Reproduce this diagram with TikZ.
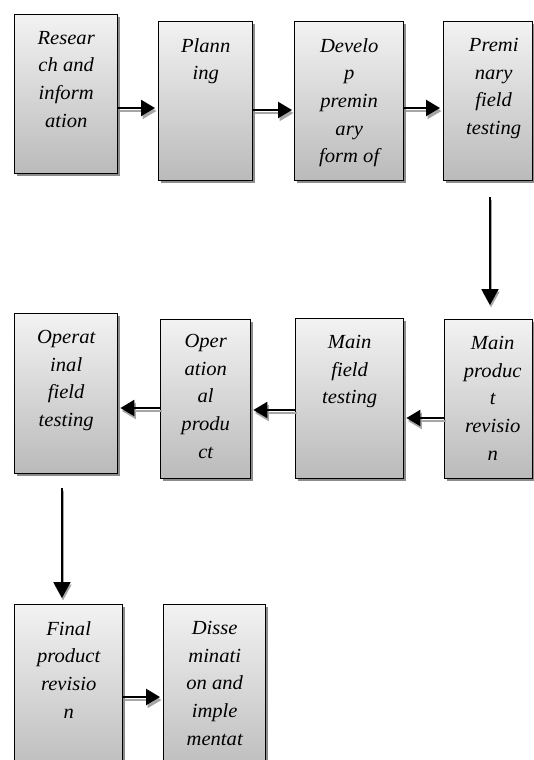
\documentclass[tikz,border=0pt]{standalone}
\usepackage{fontspec}
\setmainfont[FakeStretch=1.03]{Liberation Serif}
\usetikzlibrary{arrows.meta,shadows}
\tikzset{
  stage/.style={draw=black, line width=1.4pt, top color=black!5, bottom color=black!27,
    drop shadow={shadow xshift=2.5pt, shadow yshift=-2.5pt, fill=black!45, opacity=1},
    inner sep=0pt, anchor=north west},
  stagetext/.style={font=\fontsize{20}{27.7}\selectfont\itshape, align=center,
    inner sep=0pt, anchor=north},
  hhead/.style={-{Triangle[length=14pt,width=16pt]}},
  vhead/.style={-{Triangle[length=16pt,width=17pt]}},
  hflow/.style={hhead, line width=2.4pt, draw=black, fill=black},
  hshade/.style={hhead, line width=2.4pt, draw=black!35, fill=black!35,
    transform canvas={shift={(1.5pt,-3pt)}}},
  vflow/.style={vhead, line width=2pt, draw=black, fill=black},
  vshade/.style={vhead, line width=2pt, draw=black!35, fill=black!35,
    transform canvas={shift={(1pt,-2.5pt)}}},
}
\begin{document}
\begin{tikzpicture}[x=1pt,y=-1pt]
\fill[white] (0,0) rectangle (533,760);
\useasboundingbox (0,0) rectangle (533,760);

% boxes
\node[stage, minimum width=103pt, minimum height=159pt] (b1) at (14,14) {};
\node[stage, minimum width=94pt,  minimum height=159pt] (b2) at (158,21) {};
\node[stage, minimum width=109pt, minimum height=159pt] (b3) at (294,21) {};
\node[stage, minimum width=89pt,  minimum height=159pt] (b4) at (443,21) {};
\node[stage, minimum width=88pt,  minimum height=159pt] (b5) at (444,319) {};
\node[stage, minimum width=108pt, minimum height=160pt] (b6) at (295,318) {};
\node[stage, minimum width=90pt,  minimum height=159pt] (b7) at (160,319) {};
\node[stage, minimum width=103pt, minimum height=160pt] (b8) at (14,313) {};
\node[stage, minimum width=108pt, minimum height=175pt] (b9) at (14,604) {};
\node[stage, minimum width=102pt, minimum height=175pt] (b10) at (163,604) {};

% texts
\node[stagetext] (t1) at ([yshift=-17pt]b1.north) {Resear\\ch and\\inform\\ation};
\node[stagetext] (t2) at ([yshift=-17pt]b2.north) {Plann\\ing};
\node[stagetext] (t3) at ([yshift=-17pt]b3.north) {Develo\\p\\premin\\ary\\form of};
\node[stagetext] (t4) at ([xshift=5.5pt,yshift=-17pt]b4.north) {Premi\\nary\\field\\testing};
\node[stagetext] (t5) at ([xshift=4pt,yshift=-17pt]b5.north) {Main\\produc\\t\\revisio\\n};
\node[stagetext] (t6) at ([yshift=-17pt]b6.north) {Main\\field\\testing};
\node[stagetext] (t7) at ([yshift=-15pt]b7.north) {Oper\\ation\\al\\produ\\ct};
\node[stagetext] (t8) at ([yshift=-17pt]b8.north) {Operat\\inal\\field\\testing};
\node[stagetext] (t9) at ([yshift=-17pt]b9.north) {Final\\product\\revisio\\n};
\node[stagetext] (t10) at ([yshift=-17pt]b10.north) {Disse\\minati\\on and\\imple\\mentat};

% levels of the connectors
\coordinate (h1) at (0,108);
\coordinate (h2) at (0,110);
\coordinate (h3) at (0,108);
\coordinate (h5) at (0,418);
\coordinate (h6) at (0,410);
\coordinate (h7) at (0,408);
\coordinate (h9) at (0,697);
\coordinate (v1s) at (490,197);
\coordinate (v1e) at (490,305);
\coordinate (v2s) at (62,488);
\coordinate (v2e) at (62,598);

% shadows of the connectors
\draw[hshade, shorten >=3pt] (b1.east |- h1) -- (b2.west |- h1);
\draw[hshade, shorten >=2pt] (b2.east |- h2) -- (b3.west |- h2);
\draw[hshade, shorten >=3pt] (b3.east |- h3) -- (b4.west |- h3);
\draw[hshade, shorten >=2pt] (b5.west |- h5) -- (b6.east |- h5);
\draw[hshade, shorten >=2pt] (b6.west |- h6) -- (b7.east |- h6);
\draw[hshade, shorten >=2pt] (b7.west |- h7) -- (b8.east |- h7);
\draw[hshade, shorten >=3pt] (b9.east |- h9) -- (b10.west |- h9);
\draw[vshade] (v1s) -- (v1e);
\draw[vshade] (v2s) -- (v2e);

% connectors
\draw[hflow, shorten >=3pt] (b1.east |- h1) -- (b2.west |- h1);
\draw[hflow, shorten >=2pt] (b2.east |- h2) -- (b3.west |- h2);
\draw[hflow, shorten >=3pt] (b3.east |- h3) -- (b4.west |- h3);
\draw[hflow, shorten >=2pt] (b5.west |- h5) -- (b6.east |- h5);
\draw[hflow, shorten >=2pt] (b6.west |- h6) -- (b7.east |- h6);
\draw[hflow, shorten >=2pt] (b7.west |- h7) -- (b8.east |- h7);
\draw[hflow, shorten >=3pt] (b9.east |- h9) -- (b10.west |- h9);
\draw[vflow] (v1s) -- (v1e);
\draw[vflow] (v2s) -- (v2e);
\end{tikzpicture}
\end{document}
